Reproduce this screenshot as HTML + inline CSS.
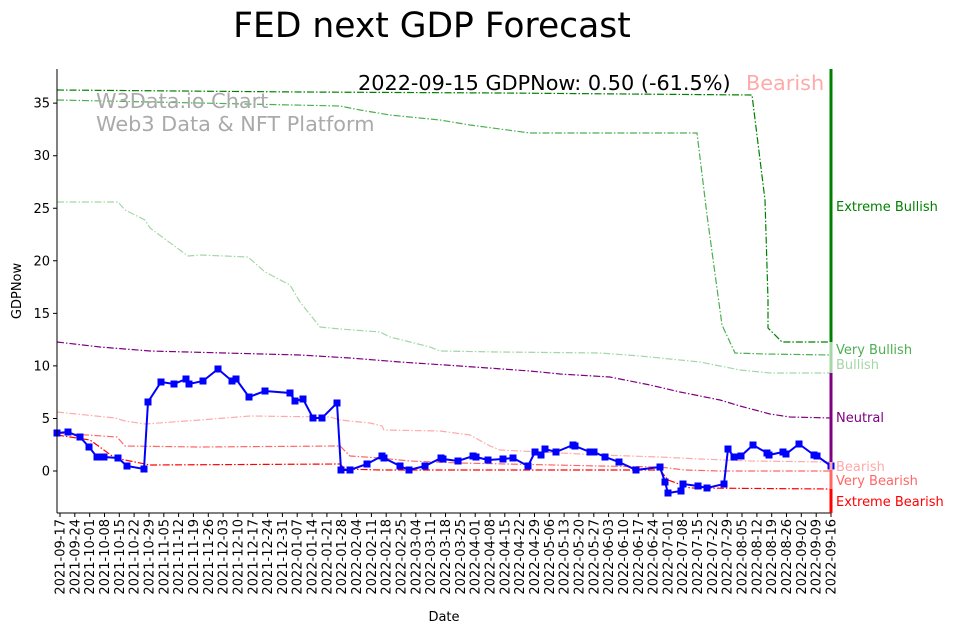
<!DOCTYPE html>
<html><head><meta charset="utf-8"><style>body{margin:0;background:#fff}svg{display:block;font-family:"DejaVu Sans","Liberation Sans",sans-serif}</style></head><body>
<svg width="961" height="633" viewBox="0 0 961 633" xmlns="http://www.w3.org/2000/svg">
<defs>
<marker id="sq" markerWidth="8" markerHeight="8" refX="4" refY="4" markerUnits="userSpaceOnUse"><rect x="0.5" y="0.5" width="7" height="7" fill="#0000ff"/></marker>
</defs>
<text x="432" y="37" font-size="34.5" text-anchor="middle">FED next GDP Forecast</text>
<g fill="none" stroke-width="1.2" stroke-dasharray="7,2,1.5,2">
<polyline stroke="#008000" points="57,90 300,92 500,93 752,95 765,200 768,300 768,328 782,342 831,342"/>
<polyline stroke="#4caf50" points="57,100 340,106 360,110 390,115 440,120 470,125 530,133 697,133 707,215 722,325 735,353 765,354 831,355"/>
<polyline stroke="#a5d6a7" points="57,202 118,202 125,210 145,220 150,228 188,256 200,255 248,257 265,272 290,285 300,302 320,327 340,329 380,332 390,337 410,342 430,347 440,351 500,352 600,353 640,356 700,362 740,370 770,373 831,373"/>
<polyline stroke="#800080" points="57,342 100,347 150,351 300,355 350,358 400,362 460,366 530,371 560,374 610,377 650,385 680,392 720,400 740,406 770,414 790,417 831,418"/>
<polyline stroke="#ffaaaa" points="57,412 115,418 125,421 145,424 200,420 250,416 330,417 340,420 370,423 382,426 384,430 440,431 470,435 490,446 500,450 540,452 600,455 660,457 700,459 750,461 831,462"/>
<polyline stroke="#ff6666" points="57,433 117,437 125,446 200,447 340,446 350,456 380,458 410,461 460,463 600,466 660,467 685,470 720,471 831,471"/>
<polyline stroke="#ff0000" points="57,435 90,440 115,458 150,465 340,464 345,469 380,470 660,470 668,480 690,488 831,489"/>
</g>
<polyline fill="none" stroke="#0000ff" stroke-width="2" marker-start="url(#sq)" marker-mid="url(#sq)" marker-end="url(#sq)" points="57,433 68,432 80,437 89,447 97,457 104,457 118,458 127,466 144,469 148,402 161,382 174,384 186,379 189,384 203,381 218,369 232,381 236,379 249,397 265,391 290,393 295,401 303,399 313,418 322,418 337,403 341,470 350,470 367,464 382,456 384,458 400,466 409,470 425,466 441,458 443,459 458,461 473,456 476,457 488,460 503,459 513,458 528,466 535,452 541,455 545,449 556,452 573,445 575,446 590,452 594,452 605,457 619,462 636,470 660,467 665,482 668,493 681,491 683,484 698,486 707,488 724,484 728,449 734,457 741,456 753,445 767,453 769,455 783,452 786,454 799,444 814,455 817,456 831,466"/>
<path stroke="#000" fill="none" d="M60,513v4M74.8,513v4M89.7,513v4M104.5,513v4M119.3,513v4M134.1,513v4M149,513v4M163.8,513v4M178.6,513v4M193.4,513v4M208.3,513v4M223.1,513v4M237.9,513v4M252.8,513v4M267.6,513v4M282.4,513v4M297.2,513v4M312.1,513v4M326.9,513v4M341.7,513v4M356.5,513v4M371.4,513v4M386.2,513v4M401,513v4M415.8,513v4M430.7,513v4M445.5,513v4M460.3,513v4M475.2,513v4M490,513v4M504.8,513v4M519.6,513v4M534.5,513v4M549.3,513v4M564.1,513v4M578.9,513v4M593.8,513v4M608.6,513v4M623.4,513v4M638.3,513v4M653.1,513v4M667.9,513v4M682.7,513v4M697.6,513v4M712.4,513v4M727.2,513v4M742,513v4M756.9,513v4M771.7,513v4M786.5,513v4M801.3,513v4M816.2,513v4M831,513v4M53,471h4M53,418.45h4M53,365.9h4M53,313.35h4M53,260.8h4M53,208.25h4M53,155.7h4M53,103.15h4"/>
<g font-size="13" text-anchor="end">
<text x="50" y="475.5">0</text><text x="50" y="423">5</text><text x="50" y="370.4">10</text><text x="50" y="317.9">15</text><text x="50" y="265.3">20</text><text x="50" y="212.8">25</text><text x="50" y="160.2">30</text><text x="50" y="107.7">35</text>
</g>
<g font-size="13" text-anchor="end">
<text transform="translate(64.5,519) rotate(-90)">2021-09-17</text>
<text transform="translate(79.3,519) rotate(-90)">2021-09-24</text>
<text transform="translate(94.2,519) rotate(-90)">2021-10-01</text>
<text transform="translate(109,519) rotate(-90)">2021-10-08</text>
<text transform="translate(123.8,519) rotate(-90)">2021-10-15</text>
<text transform="translate(138.6,519) rotate(-90)">2021-10-22</text>
<text transform="translate(153.5,519) rotate(-90)">2021-10-29</text>
<text transform="translate(168.3,519) rotate(-90)">2021-11-05</text>
<text transform="translate(183.1,519) rotate(-90)">2021-11-12</text>
<text transform="translate(197.9,519) rotate(-90)">2021-11-19</text>
<text transform="translate(212.8,519) rotate(-90)">2021-11-26</text>
<text transform="translate(227.6,519) rotate(-90)">2021-12-03</text>
<text transform="translate(242.4,519) rotate(-90)">2021-12-10</text>
<text transform="translate(257.3,519) rotate(-90)">2021-12-17</text>
<text transform="translate(272.1,519) rotate(-90)">2021-12-24</text>
<text transform="translate(286.9,519) rotate(-90)">2021-12-31</text>
<text transform="translate(301.7,519) rotate(-90)">2022-01-07</text>
<text transform="translate(316.6,519) rotate(-90)">2022-01-14</text>
<text transform="translate(331.4,519) rotate(-90)">2022-01-21</text>
<text transform="translate(346.2,519) rotate(-90)">2022-01-28</text>
<text transform="translate(361,519) rotate(-90)">2022-02-04</text>
<text transform="translate(375.9,519) rotate(-90)">2022-02-11</text>
<text transform="translate(390.7,519) rotate(-90)">2022-02-18</text>
<text transform="translate(405.5,519) rotate(-90)">2022-02-25</text>
<text transform="translate(420.3,519) rotate(-90)">2022-03-04</text>
<text transform="translate(435.2,519) rotate(-90)">2022-03-11</text>
<text transform="translate(450,519) rotate(-90)">2022-03-18</text>
<text transform="translate(464.8,519) rotate(-90)">2022-03-25</text>
<text transform="translate(479.7,519) rotate(-90)">2022-04-01</text>
<text transform="translate(494.5,519) rotate(-90)">2022-04-08</text>
<text transform="translate(509.3,519) rotate(-90)">2022-04-15</text>
<text transform="translate(524.1,519) rotate(-90)">2022-04-22</text>
<text transform="translate(539,519) rotate(-90)">2022-04-29</text>
<text transform="translate(553.8,519) rotate(-90)">2022-05-06</text>
<text transform="translate(568.6,519) rotate(-90)">2022-05-13</text>
<text transform="translate(583.4,519) rotate(-90)">2022-05-20</text>
<text transform="translate(598.3,519) rotate(-90)">2022-05-27</text>
<text transform="translate(613.1,519) rotate(-90)">2022-06-03</text>
<text transform="translate(627.9,519) rotate(-90)">2022-06-10</text>
<text transform="translate(642.8,519) rotate(-90)">2022-06-17</text>
<text transform="translate(657.6,519) rotate(-90)">2022-06-24</text>
<text transform="translate(672.4,519) rotate(-90)">2022-07-01</text>
<text transform="translate(687.2,519) rotate(-90)">2022-07-08</text>
<text transform="translate(702.1,519) rotate(-90)">2022-07-15</text>
<text transform="translate(716.9,519) rotate(-90)">2022-07-22</text>
<text transform="translate(731.7,519) rotate(-90)">2022-07-29</text>
<text transform="translate(746.5,519) rotate(-90)">2022-08-05</text>
<text transform="translate(761.4,519) rotate(-90)">2022-08-12</text>
<text transform="translate(776.2,519) rotate(-90)">2022-08-19</text>
<text transform="translate(791,519) rotate(-90)">2022-08-26</text>
<text transform="translate(805.8,519) rotate(-90)">2022-09-02</text>
<text transform="translate(820.7,519) rotate(-90)">2022-09-09</text>
<text transform="translate(835.5,519) rotate(-90)">2022-09-16</text>
</g>
<line x1="57" y1="69" x2="57" y2="513" stroke="#000"/>
<line x1="57" y1="513" x2="831" y2="513" stroke="#000"/>
<g stroke-width="3">
<line x1="831" y1="69" x2="831" y2="342" stroke="#008000"/>
<line x1="831" y1="342" x2="831" y2="373" stroke="#a5d6a7"/>
<line x1="831" y1="373" x2="831" y2="462" stroke="#800080"/>
<line x1="831" y1="462" x2="831" y2="470" stroke="#ffaaaa"/>
<line x1="831" y1="470" x2="831" y2="489" stroke="#ff6666"/>
<line x1="831" y1="489" x2="831" y2="513" stroke="#ff0000"/>
</g>
<g font-size="13">
<text x="836" y="211" fill="#008000">Extreme Bullish</text>
<text x="836" y="354" fill="#4caf50">Very Bullish</text>
<text x="836" y="369" fill="#a5d6a7">Bullish</text>
<text x="836" y="422" fill="#800080">Neutral</text>
<text x="836" y="471" fill="#ffaaaa">Bearish</text>
<text x="836" y="485" fill="#ff6666">Very Bearish</text>
<text x="836" y="506" fill="#ff0000">Extreme Bearish</text>
</g>
<text x="358" y="90" font-size="20.8">2022-09-15 GDPNow: 0.50 (-61.5%)</text>
<text x="746" y="90" font-size="20.8" fill="#ffaaaa">Bearish</text>
<text x="96" y="108" font-size="20.8" fill="#aaa">W3Data.io Chart</text>
<text x="96" y="131" font-size="20.8" fill="#aaa">Web3 Data &amp; NFT Platform</text>
<text transform="translate(21,291) rotate(-90)" font-size="13" text-anchor="middle">GDPNow</text>
<text x="444" y="621" font-size="13" text-anchor="middle">Date</text>
</svg>
</body></html>
